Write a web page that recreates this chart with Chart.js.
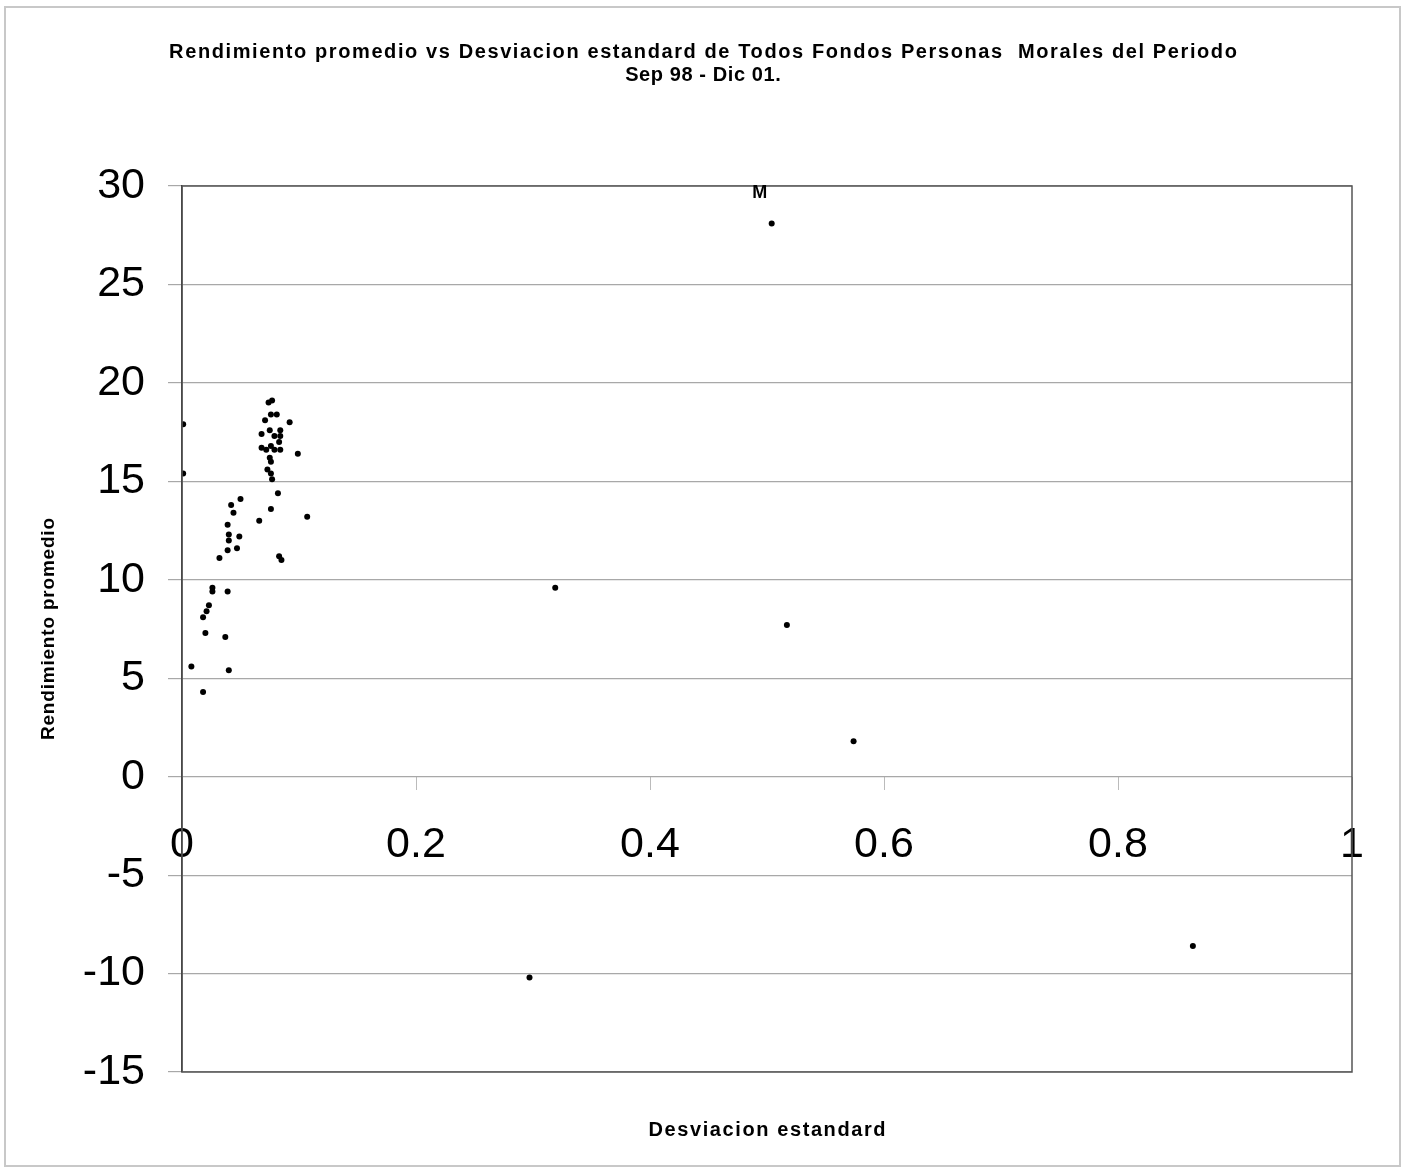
<!DOCTYPE html>
<html>
<head>
<meta charset="utf-8">
<title>Rendimiento promedio vs Desviacion estandard</title>
<script src="https://cdn.jsdelivr.net/npm/chart.js@4.4.1/dist/chart.umd.min.js"></script>
<style>
	body { margin: 0; background: #fff; }
	#wrap { width: 1405px; height: 1170px; }
</style>
</head>
<body>
<div id="wrap"><canvas id="riesgoChart" width="1405" height="1170"></canvas></div>
<script>
const titulo = ['Rendimiento promedio vs Desviacion estandard de Todos Fondos Personas  Morales del Periodo', 'Sep 98 - Dic 01.'];
const tituloX = 'Desviacion estandard';
const tituloY = 'Rendimiento promedio';

// desviacion estandard (x) y rendimiento promedio (y) de cada fondo
const desviacion = [0.001, 0.001, 0.074, 0.077, 0.076, 0.081, 0.071, 0.092, 0.084, 0.068,
	0.075, 0.084, 0.079, 0.083, 0.068, 0.076, 0.072, 0.079, 0.084, 0.099,
	0.075, 0.076, 0.073, 0.076, 0.077, 0.082, 0.050, 0.042, 0.044, 0.076,
	0.107, 0.066, 0.039, 0.040, 0.040, 0.049, 0.039, 0.047, 0.032, 0.083,
	0.085, 0.026, 0.026, 0.039, 0.023, 0.021, 0.018, 0.020, 0.037, 0.008,
	0.040, 0.018, 0.319, 0.297, 0.504, 0.517, 0.574, 0.864];
const rendimiento = [17.9, 15.4, 19.0, 19.1, 18.4, 18.4, 18.1, 18.0, 17.6, 17.4,
	17.6, 17.3, 17.3, 17.0, 16.7, 16.8, 16.6, 16.6, 16.6, 16.4,
	16.2, 16.0, 15.6, 15.4, 15.1, 14.4, 14.1, 13.8, 13.4, 13.6,
	13.2, 13.0, 12.8, 12.3, 12.0, 12.2, 11.5, 11.6, 11.1, 11.2,
	11.0, 9.6, 9.4, 9.4, 8.7, 8.4, 8.1, 7.3, 7.1, 5.6,
	5.4, 4.3, 9.6, -10.2, 28.1, 7.7, 1.8, -8.6];
// etiqueta de punto (solo el fondo M lleva nombre)
const etiquetas = desviacion.map((d, i) => i === 54 ? 'M' : '');

const ticksX = [0, 0.2, 0.4, 0.6, 0.8, 1];
const ticksY = [-15, -10, -5, 0, 5, 10, 15, 20, 25, 30];

const puntos = desviacion.map((d, i) => ({ x: d, y: rendimiento[i] }));

const fuente = 'Arial, "Liberation Sans", sans-serif';

function textoEspaciado(ctx, txt, x, y, espacio) {
	ctx.letterSpacing = espacio + 'px';
	ctx.fillText(txt, x + espacio / 2, y);
	ctx.letterSpacing = '0px';
}

const textosPlugin = {
	id: 'textos',
	beforeDraw(chart) {
		const ctx = chart.ctx;
		ctx.save();
		ctx.fillStyle = '#fff';
		ctx.fillRect(0, 0, chart.width, chart.height);
		ctx.strokeStyle = '#c8c8c8';
		ctx.lineWidth = 2;
		ctx.strokeRect(5, 7, 1395, 1159);
		ctx.restore();
	},
	afterDraw(chart) {
		const ctx = chart.ctx;
		const area = chart.chartArea;
		ctx.save();
		// borde del area de trazado
		ctx.strokeStyle = '#555';
		ctx.lineWidth = 1.5;
		ctx.strokeRect(area.left, area.top, area.right - area.left, area.bottom - area.top);

		ctx.fillStyle = '#000';
		ctx.textAlign = 'center';
		ctx.textBaseline = 'middle';
		ctx.font = 'bold 20px ' + fuente;
		textoEspaciado(ctx, titulo[0], 703, 52, 1.6);
		textoEspaciado(ctx, titulo[1], 703, 75, 0.6);
		textoEspaciado(ctx, tituloX, (area.left + area.right) / 2, 1130, 1.6);

		ctx.save();
		ctx.translate(49, (area.top + area.bottom) / 2);
		ctx.rotate(-Math.PI / 2);
		ctx.font = 'bold 19px ' + fuente;
		textoEspaciado(ctx, tituloY, 0, 0, 0.8);
		ctx.restore();

		// etiquetas de los puntos
		const meta = chart.getDatasetMeta(0);
		ctx.font = 'bold 18px ' + fuente;
		meta.data.forEach((pt, i) => {
			if (etiquetas[i]) {
				ctx.fillText(etiquetas[i], pt.x - 12, pt.y - 30);
			}
		});
		ctx.restore();
	}
};

const ctx = document.getElementById('riesgoChart').getContext('2d');
new Chart(ctx, {
	type: 'scatter',
	data: {
		datasets: [{
			label: tituloY,
			data: puntos,
			backgroundColor: '#000',
			borderColor: '#000',
			pointRadius: 3,
			pointHoverRadius: 3,
			borderWidth: 0
		}]
	},
	options: {
		responsive: false,
		animation: false,
		layout: { padding: { top: 186, right: 53, bottom: 98, left: 0 } },
		plugins: {
			legend: { display: false },
			title: { display: false },
			tooltip: { enabled: false }
		},
		scales: {
			x: {
				type: 'linear',
				position: { y: 0 },
				min: 0,
				max: 1,
				afterBuildTicks: axis => { axis.ticks = ticksX.map(v => ({ value: v })); },
				ticks: {
					color: '#000',
					font: { family: fuente, size: 43 },
					padding: 30,
					maxRotation: 0,
					callback: v => String(v)
				},
				grid: {
					drawOnChartArea: false,
					tickLength: 13,
					tickColor: '#bbb'
				},
				border: { display: false }
			},
			y: {
				type: 'linear',
				min: -15,
				max: 30,
				afterBuildTicks: axis => { axis.ticks = ticksY.map(v => ({ value: v })); },
				afterFit: axis => { axis.width = 182; },
				ticks: {
					color: '#000',
					font: { family: fuente, size: 43 },
					padding: 23
				},
				grid: {
					color: '#a8a8a8',
					tickLength: 14,
					lineWidth: 1.2
				},
				border: { display: true, color: '#222', width: 1.5 }
			}
		}
	},
	plugins: [textosPlugin]
});
</script>
</body>
</html>
